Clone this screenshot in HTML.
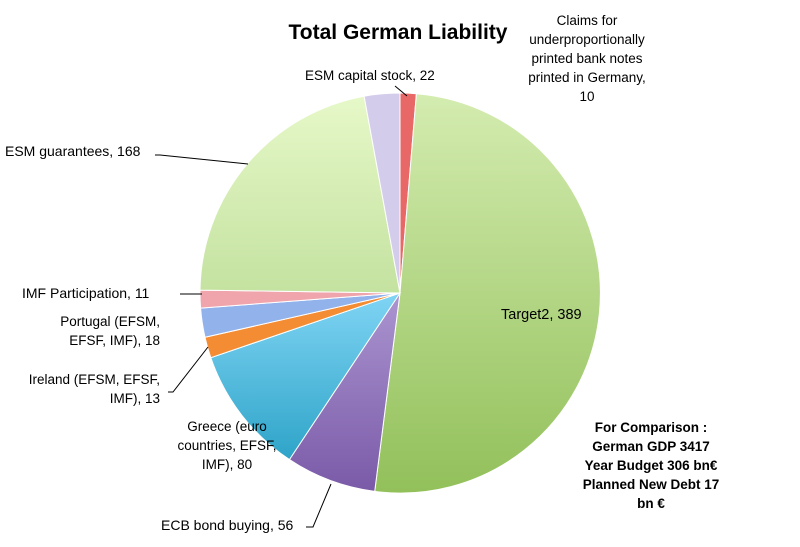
<!DOCTYPE html>
<html><head><meta charset="utf-8"><style>
body{margin:0;background:#fff;}
svg text{font-family:"Liberation Sans",sans-serif;font-size:13.5px;fill:#000;}
</style></head><body>
<svg width="800" height="542" viewBox="0 0 800 542" xmlns="http://www.w3.org/2000/svg">
<defs>
<linearGradient id="g1" x1="0" y1="0" x2="0" y2="1"><stop offset="0" stop-color="#d4ecb0"/><stop offset="1" stop-color="#92c05a"/></linearGradient>
<linearGradient id="g2" x1="0" y1="0" x2="0" y2="1"><stop offset="0" stop-color="#ab95d0"/><stop offset="1" stop-color="#7a5aa8"/></linearGradient>
<linearGradient id="g3" x1="0" y1="0" x2="0" y2="1"><stop offset="0" stop-color="#80d4f4"/><stop offset="1" stop-color="#2ea4c8"/></linearGradient>
<linearGradient id="g4" x1="0" y1="0" x2="0" y2="1"><stop offset="0" stop-color="#e6f8c8"/><stop offset="1" stop-color="#c4e2a0"/></linearGradient>
</defs>
<rect width="800" height="542" fill="#fff"/>
<g stroke="#fff" stroke-width="1">
<path d="M400,293 L400,93 A200,200 0 0 1 416.4,93.7 Z" fill="#e86868"/>
<path d="M400,293 L416.4,93.7 A200,200 0 1 1 374.7,491.4 Z" fill="url(#g1)"/>
<path d="M400,293 L374.7,491.4 A200,200 0 0 1 289.4,459.6 Z" fill="url(#g2)"/>
<path d="M400,293 L289.4,459.6 A200,200 0 0 1 210.8,357.7 Z" fill="url(#g3)"/>
<path d="M400,293 L210.8,357.7 A200,200 0 0 1 205.0,337.3 Z" fill="#f48c34"/>
<path d="M400,293 L205.0,337.3 A200,200 0 0 1 200.6,308.1 Z" fill="#92b2ec"/>
<path d="M400,293 L200.6,308.1 A200,200 0 0 1 200,290.1 Z" fill="#f0a4ac"/>
<path d="M400,293 L200,290.1 A200,200 0 0 1 364.1,96.2 Z" fill="url(#g4)"/>
<path d="M400,293 L364.1,96.2 A200,200 0 0 1 400,93 Z" fill="#d4cceb"/>
</g>
<g stroke="#000" stroke-width="1" fill="none">
<polyline points="155,155 160,155 248,164"/>
<polyline points="395,86 407,96"/>
<polyline points="180,294 202,294"/>
<polyline points="168,392 173,392 208,347"/>
<polyline points="306,527 313,527 331,484"/>
</g>
<text x="398" y="39" text-anchor="middle" style="font-size:21px;font-weight:bold">Total German Liability</text>
<text x="587" y="25" text-anchor="middle">Claims for</text>
<text x="587" y="44" text-anchor="middle">underproportionally</text>
<text x="587" y="63" text-anchor="middle">printed bank notes</text>
<text x="587" y="82" text-anchor="middle">printed in Germany,</text>
<text x="587" y="101" text-anchor="middle">10</text>
<text x="305" y="80">ESM capital stock, 22</text>
<text x="5" y="156" style="font-size:14px">ESM guarantees, 168</text>
<text x="22" y="298" style="font-size:14px">IMF Participation, 11</text>
<text x="160" y="326" text-anchor="end">Portugal (EFSM,</text>
<text x="160" y="345" text-anchor="end">EFSF, IMF), 18</text>
<text x="160" y="384" text-anchor="end">Ireland (EFSM, EFSF,</text>
<text x="160" y="403" text-anchor="end">IMF), 13</text>
<text x="227" y="431" text-anchor="middle">Greece (euro</text>
<text x="227" y="450" text-anchor="middle">countries, EFSF,</text>
<text x="227" y="469" text-anchor="middle">IMF), 80</text>
<text x="161" y="530" style="font-size:14px">ECB bond buying, 56</text>
<text x="501" y="319" style="font-size:14.5px">Target2, 389</text>
<g text-anchor="middle">
<text x="651" y="432" style="font-weight:bold">For Comparison :</text>
<text x="651" y="451" style="font-weight:bold">German GDP 3417</text>
<text x="651" y="470" style="font-weight:bold">Year Budget 306 bn€</text>
<text x="651" y="489" style="font-weight:bold">Planned New Debt 17</text>
<text x="651" y="508" style="font-weight:bold">bn €</text>
</g>
</svg>
</body></html>
